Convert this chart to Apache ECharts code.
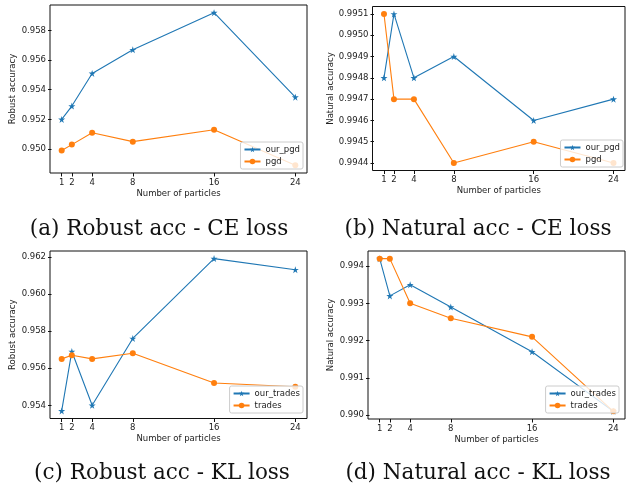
<!DOCTYPE html>
<html>
<head>
<meta charset="utf-8">
<script src="https://cdn.jsdelivr.net/npm/echarts@6/dist/echarts.min.js"></script>
<style>html,body{margin:0;padding:0;background:#fff}#c{width:626px;height:486px}</style>
</head>
<body>
<div id="c"></div>
<script>
// ---- data ----
var particles = [1, 2, 4, 8, 16, 24];
var xTicks = [1, 2, 4, 8, 16, 24];

var ceRobustOurPgd = [0.9520, 0.9529, 0.9551, 0.9567, 0.9592, 0.9535];
var ceRobustPgd    = [0.9499, 0.9503, 0.9511, 0.9505, 0.9513, 0.9489];
var ceRobustTicks  = [0.950, 0.952, 0.954, 0.956, 0.958];

var ceNaturalOurPgd = [0.9948, 0.9951, 0.9948, 0.9949, 0.9946, 0.9947];
var ceNaturalPgd    = [0.9951, 0.9947, 0.9947, 0.9944, 0.9945, 0.9944];
var ceNaturalTicks  = [0.9944, 0.9945, 0.9946, 0.9947, 0.9948, 0.9949, 0.9950, 0.9951];

var klRobustOurTrades = [0.9537, 0.9569, 0.9540, 0.9576, 0.9619, 0.9613];
var klRobustTrades    = [0.9565, 0.9567, 0.9565, 0.9568, 0.9552, 0.9550];
var klRobustTicks     = [0.954, 0.956, 0.958, 0.960, 0.962];

var klNaturalOurTrades = [0.9942, 0.9932, 0.9935, 0.9929, 0.9917, 0.9901];
var klNaturalTrades    = [0.9942, 0.9942, 0.9930, 0.9926, 0.9921, 0.9901];
var klNaturalTicks     = [0.990, 0.991, 0.992, 0.993, 0.994];

var captions = ['(a) Robust acc - CE loss', '(b) Natural acc - CE loss',
                '(c) Robust acc - KL loss', '(d) Natural acc - KL loss'];
var yNames = ['Robust accuracy', 'Natural accuracy', 'Robust accuracy', 'Natural accuracy'];
var xName = 'Number of particles';

// ---- chart ----
var BLUE = '#1f77b4', ORANGE = '#ff7f0e';
var STAR = 'path://M50 0 L61.17 34.63 L97.55 34.55 L68.07 55.87 L79.39 90.45 L50 69 L20.61 90.45 L31.93 55.87 L2.45 34.55 L38.83 34.63 Z';
var FONT = 'DejaVu Sans';

var panels = [
  {a: ceRobustOurPgd, b: ceRobustPgd, na: 'our_pgd', nb: 'pgd', ticks: ceRobustTicks, dec: 3,
   grid: {left: 50, top: 5, width: 257, height: 168}, yGap: 31,
   legend: {right: 323, bottom: 317}, cap: {x: 159, y: 218}},
  {a: ceNaturalOurPgd, b: ceNaturalPgd, na: 'our_pgd', nb: 'pgd', ticks: ceNaturalTicks, dec: 4,
   grid: {left: 372.5, top: 6.5, width: 252.5, height: 164}, yGap: 34.5,
   legend: {right: 3, bottom: 319}, cap: {x: 478, y: 218}},
  {a: klRobustOurTrades, b: klRobustTrades, na: 'our_trades', nb: 'trades', ticks: klRobustTicks, dec: 3,
   grid: {left: 50, top: 251, width: 257, height: 167.5}, yGap: 31,
   legend: {right: 323, bottom: 73}, cap: {x: 162, y: 462}},
  {a: klNaturalOurTrades, b: klNaturalTrades, na: 'our_trades', nb: 'trades', ticks: klNaturalTicks, dec: 3,
   grid: {left: 368, top: 251, width: 257, height: 168}, yGap: 31,
   legend: {right: 7, bottom: 73}, cap: {x: 478, y: 462}}
];

function pairs(ys) { return particles.map(function (p, i) { return [p, ys[i]]; }); }

var xMin = particles[0], xMax = particles[particles.length - 1];
var xPad = (xMax - xMin) * 0.05;

var option = {animation: false, backgroundColor: '#fff',
  grid: [], xAxis: [], yAxis: [], series: [], legend: [], title: []};

panels.forEach(function (p, i) {
  var all = p.a.concat(p.b);
  var lo = Math.min.apply(null, all), hi = Math.max.apply(null, all);
  var pad = (hi - lo) * 0.05;
  option.grid.push(Object.assign({show: true, borderColor: '#111', borderWidth: 1, backgroundColor: 'transparent'}, p.grid));
  option.xAxis.push({
    type: 'value', gridIndex: i, min: xMin - xPad, max: xMax + xPad,
    name: xName, nameLocation: 'middle', nameGap: 16,
    nameTextStyle: {fontFamily: FONT, fontSize: 8.5, color: '#222'},
    axisLine: {show: false}, splitLine: {show: false},
    axisTick: {show: true, length: 3.5, lineStyle: {color: '#111'}, customValues: xTicks},
    axisLabel: {fontFamily: FONT, fontSize: 8.5, color: '#222', margin: 5, customValues: xTicks}
  });
  option.yAxis.push({
    type: 'value', gridIndex: i, min: lo - pad, max: hi + pad,
    name: yNames[i], nameLocation: 'middle', nameGap: p.yGap,
    nameTextStyle: {fontFamily: FONT, fontSize: 8.5, color: '#222'},
    axisLine: {show: false}, splitLine: {show: false},
    axisTick: {show: true, length: 3.5, lineStyle: {color: '#111'}, customValues: p.ticks},
    axisLabel: {fontFamily: FONT, fontSize: 8.5, color: '#222', margin: 4, customValues: p.ticks,
      formatter: (function (d) { return function (v) { return v.toFixed(d); }; })(p.dec)}
  });
  option.series.push({
    type: 'line', name: p.na, xAxisIndex: i, yAxisIndex: i, data: pairs(p.a),
    symbol: STAR, symbolSize: 7, itemStyle: {color: BLUE}, lineStyle: {color: BLUE, width: 1.1}, z: 3
  });
  option.series.push({
    type: 'line', name: p.nb, xAxisIndex: i, yAxisIndex: i, data: pairs(p.b),
    symbol: 'circle', symbolSize: 6, itemStyle: {color: ORANGE}, lineStyle: {color: ORANGE, width: 1.1}, z: 3
  });
  option.legend.push(Object.assign({
    orient: 'vertical', data: [p.na, p.nb], z: 10,
    backgroundColor: 'rgba(255,255,255,0.8)', borderColor: '#ccc', borderWidth: 1, borderRadius: 2,
    padding: [3, 3, 3, 3], itemGap: 3, itemWidth: 16, itemHeight: 7,
    selectedMode: false,
    textStyle: {fontFamily: FONT, fontSize: 8.5, color: '#222'}
  }, p.legend));
  option.title.push({
    text: captions[i], left: p.cap.x, top: p.cap.y, textAlign: 'center', padding: 0,
    textStyle: {fontFamily: 'DejaVu Serif', fontSize: 21.5, fontWeight: 'normal', color: '#111'}
  });
});

var chart = echarts.init(document.getElementById('c'), null, {renderer: 'canvas'});
chart.setOption(option);
</script>
</body>
</html>
